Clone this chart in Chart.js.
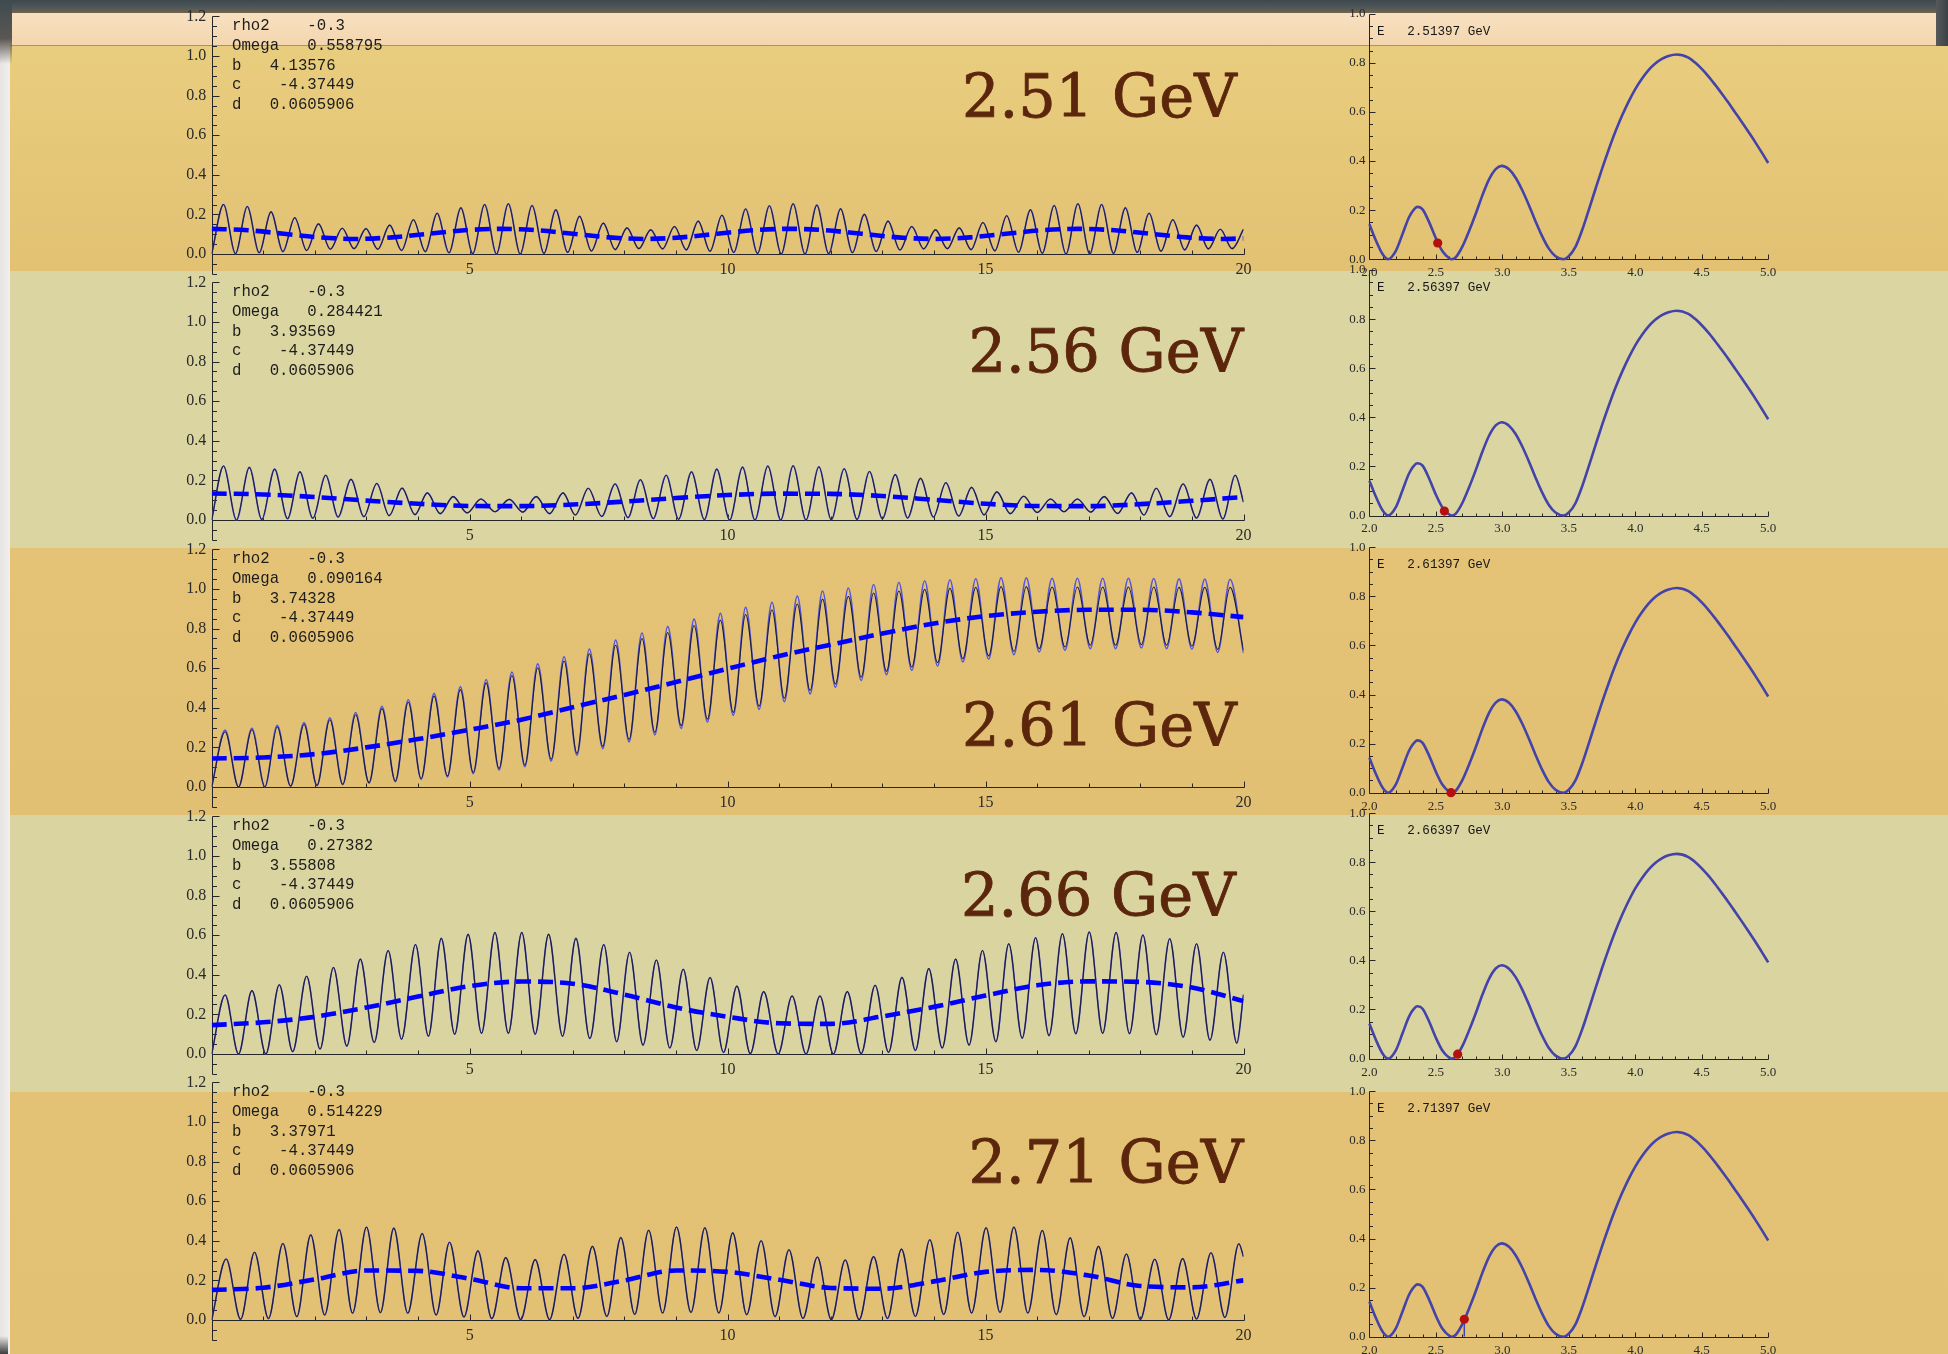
<!DOCTYPE html>
<html lang="en">
<head>
<meta charset="utf-8">
<title>Energy scan 2.51 – 2.71 GeV</title>
<script src="https://cdn.jsdelivr.net/npm/chart.js@4.4.1/dist/chart.umd.min.js"></script>
<style>
  html, body { margin: 0; padding: 0; }
  body { width: 1948px; height: 1354px; position: relative; overflow: hidden; background: #E3C275; }
  .bg { position: absolute; }
  canvas { position: absolute; }
</style>
</head>
<body>
<!-- frame and alternating bands -->
<div class="bg" style="left:0;top:0;width:1948px;height:14px;background:linear-gradient(#3d484e,#4f575a 55%,#7b6647)"></div>
<div class="bg" style="left:10px;top:13px;width:1926px;height:32px;background:linear-gradient(#F8E0C0,#F3D6AF);border-bottom:1px solid #A8917A"></div>
<div class="bg" style="left:1936px;top:0;width:12px;height:52px;background:linear-gradient(90deg,#56595a,#3b4246)"></div>
<div class="bg" style="left:10px;top:46px;width:1938px;height:225px;background:linear-gradient(#E9CD7E,#E2C173)"></div>
<div class="bg" style="left:10px;top:271px;width:1938px;height:277px;background:#DBD6A1"></div>
<div class="bg" style="left:10px;top:548px;width:1938px;height:267px;background:linear-gradient(#E4C376,#E2C073)"></div>
<div class="bg" style="left:10px;top:815px;width:1938px;height:277px;background:#DAD4A0"></div>
<div class="bg" style="left:10px;top:1092px;width:1938px;height:262px;background:linear-gradient(#E3C275,#E2C174)"></div>
<div class="bg" style="left:0;top:14px;width:10px;height:1340px;background:linear-gradient(90deg,#E6E4E2,#F1F0EE)"></div>
<div class="bg" style="left:0;top:0;width:12px;height:64px;background:linear-gradient(#3f4a4f,#5a5752 60%,rgba(90,87,82,0))"></div>
<div class="bg" style="left:0;top:1336px;width:8px;height:18px;background:linear-gradient(rgba(60,60,60,0),#3c3c3c)"></div>

<script>
// ---------------- values ----------------
const energyLabels = ['2.51 GeV', '2.56 GeV', '2.61 GeV', '2.66 GeV', '2.71 GeV'];
const energyExact  = [2.51397, 2.56397, 2.61397, 2.66397, 2.71397];
const rho2Value  = '-0.3';
const omegaVals  = ['0.558795', '0.284421', '0.090164', '0.27382', '0.514229'];
const bVals      = ['4.13576', '3.93569', '3.74328', '3.55808', '3.37971'];
const cValue     = '-4.37449';
const dValue     = '0.0605906';

// tick labels
const leftXTicks  = [5, 10, 15, 20];
const leftYTicks  = [0, 0.2, 0.4, 0.6, 0.8, 1.0, 1.2];
const rightXTicks = [2.0, 2.5, 3.0, 3.5, 4.0, 4.5, 5.0];
const rightYTicks = [0, 0.2, 0.4, 0.6, 0.8, 1.0];

// density |psi|^2 along x: maxima and minima of the oscillation
const w1PeakX = [0.23,0.69,1.15,1.61,2.07,2.53,2.99,3.45,3.91,4.37,4.83,5.29,5.75,6.21,6.67,7.13,7.59,8.05,8.51,8.97,9.43,9.89,10.35,10.81,11.27,11.73,12.19,12.65,13.11,13.57,14.03,14.49,14.95,15.41,15.87,16.33,16.79,17.25,17.71,18.17,18.63,19.09,19.55];
const w1PeakY = [0.250,0.240,0.213,0.183,0.152,0.130,0.128,0.146,0.173,0.206,0.233,0.250,0.254,0.245,0.223,0.190,0.156,0.132,0.122,0.139,0.166,0.196,0.227,0.244,0.254,0.247,0.228,0.200,0.166,0.139,0.122,0.132,0.159,0.193,0.223,0.245,0.254,0.250,0.233,0.206,0.173,0.146,0.125];
const w1LowX  = [0,0.46,0.92,1.38,1.84,2.30,2.76,3.22,3.68,4.14,4.60,5.06,5.52,5.98,6.44,6.90,7.36,7.82,8.28,8.74,9.20,9.66,10.12,10.58,11.04,11.50,11.96,12.42,12.88,13.34,13.80,14.26,14.72,15.18,15.64,16.10,16.56,17.02,17.48,17.94,18.40,18.86,19.32,19.78,20];
const w1LowY  = [0,0.002,0.006,0.012,0.018,0.024,0.027,0.024,0.018,0.012,0.006,0.002,0,0,0.003,0.008,0.015,0.022,0.027,0.026,0.021,0.014,0.008,0.003,0,0,0.002,0.007,0.013,0.020,0.026,0.027,0.022,0.016,0.009,0.004,0,0,0.003,0.008,0.014,0.021,0.026,0.027,0.125];
const avg1X = [0,0.7,1.4,2.1,2.8,3.5,4.2,4.9,5.6,6.3,7.0,7.7,8.4,9.1,9.8,10.5,11.2,11.9,12.6,13.3,14.0,14.7,15.4,16.1,16.8,17.5,18.2,18.9,19.6,20];
const avg1Y = [0.127,0.120,0.102,0.084,0.076,0.084,0.102,0.120,0.127,0.120,0.102,0.084,0.076,0.084,0.102,0.120,0.127,0.120,0.102,0.084,0.076,0.084,0.102,0.120,0.127,0.120,0.102,0.084,0.076,0.079];

const w2PeakX = [0.23,0.73,1.22,1.71,2.21,2.70,3.20,3.69,4.18,4.68,5.22,5.77,6.29,6.81,7.30,7.82,8.31,8.81,9.30,9.79,10.29,10.78,11.27,11.77,12.26,12.75,13.25,13.74,14.23,14.73,15.22,15.74,16.26,16.78,17.30,17.83,18.31,18.83,19.35,19.84];
const w2PeakY = [0.273,0.266,0.257,0.243,0.226,0.205,0.184,0.161,0.137,0.118,0.106,0.104,0.118,0.137,0.160,0.182,0.203,0.226,0.243,0.257,0.267,0.273,0.274,0.269,0.259,0.245,0.229,0.210,0.188,0.165,0.142,0.120,0.106,0.106,0.118,0.137,0.160,0.182,0.205,0.226];
const w2LowX  = [0,0.48,0.97,1.47,1.96,2.45,2.95,3.44,3.94,4.43,4.95,5.49,6.03,6.55,7.05,7.56,8.07,8.56,9.05,9.55,10.04,10.53,11.03,11.52,12.01,12.51,13.0,13.49,13.99,14.48,14.97,15.48,16.0,16.52,17.04,17.56,18.07,18.57,19.09,19.60,20];
const w2LowY  = [0,0,0.003,0.006,0.009,0.015,0.017,0.022,0.027,0.032,0.036,0.042,0.040,0.032,0.025,0.018,0.012,0.007,0.004,0.002,0,0,0,0,0.001,0.003,0.006,0.010,0.015,0.020,0.026,0.032,0.038,0.042,0.040,0.033,0.025,0.017,0.010,0.005,0.09];
const avg2X = [0,1,2,3,4,5,6,7,8,9,10,11,12,13,14,15,16,17,18,19,20];
const avg2Y = [0.134,0.129,0.116,0.098,0.082,0.071,0.070,0.078,0.093,0.111,0.126,0.133,0.132,0.121,0.102,0.082,0.071,0.070,0.080,0.097,0.116];

const w3PeakX = [0.26,0.78,1.27,1.79,2.29,2.79,3.30,3.81,4.31,4.82,5.32,5.82,6.32,6.83,7.32,7.83,8.34,8.84,9.35,9.86,10.35,10.86,11.35,11.84,12.34,12.83,13.32,13.82,14.31,14.81,15.30,15.79,16.29,16.78,17.27,17.77,18.26,18.75,19.25,19.74];
const w3PeakY = [0.279,0.289,0.303,0.316,0.340,0.365,0.396,0.428,0.459,0.492,0.526,0.563,0.602,0.636,0.673,0.716,0.750,0.780,0.816,0.843,0.871,0.895,0.924,0.949,0.963,0.980,0.990,0.998,1.003,1.008,1.012,1.012,1.010,1.010,1.010,1.010,1.010,1.008,1.008,1.008];
const w3LowX  = [0,0.52,1.03,1.53,2.04,2.54,3.05,3.56,4.06,4.57,5.07,5.57,6.07,6.58,7.08,7.58,8.09,8.59,9.10,9.61,10.11,10.61,11.10,11.60,12.09,12.59,13.08,13.57,14.07,14.56,15.06,15.55,16.04,16.54,17.03,17.52,18.02,18.51,19.0,19.50,20];
const w3LowY  = [0,0,0,0.005,0.008,0.014,0.022,0.030,0.042,0.056,0.073,0.093,0.110,0.140,0.170,0.205,0.240,0.276,0.310,0.343,0.377,0.408,0.448,0.487,0.521,0.555,0.584,0.606,0.628,0.648,0.662,0.685,0.699,0.707,0.716,0.716,0.719,0.716,0.712,0.695,0.690];
const w3BluePeakY = [0.287,0.297,0.311,0.325,0.350,0.376,0.408,0.441,0.473,0.507,0.543,0.581,0.622,0.658,0.697,0.742,0.778,0.810,0.848,0.877,0.907,0.933,0.964,0.990,1.005,1.023,1.034,1.042,1.047,1.052,1.056,1.056,1.054,1.054,1.054,1.054,1.053,1.051,1.050,1.049];
const w3BlueLowY  = [0,0,0,0.004,0.007,0.012,0.019,0.027,0.038,0.051,0.067,0.086,0.102,0.131,0.160,0.194,0.228,0.263,0.296,0.329,0.362,0.392,0.431,0.470,0.504,0.538,0.567,0.589,0.611,0.631,0.645,0.668,0.682,0.690,0.699,0.699,0.702,0.699,0.696,0.680,0.676];
const avg3X = [0,1,2,3,4,5,6,7,8,9,10,11,12,13,14,15,16,17,18,19,20];
const avg3Y = [0.144,0.149,0.166,0.200,0.242,0.289,0.340,0.403,0.465,0.530,0.597,0.662,0.719,0.775,0.826,0.863,0.885,0.895,0.895,0.882,0.858];

const w4PeakX = [0.26,0.78,1.31,1.84,2.36,2.88,3.42,3.95,4.45,4.97,5.49,6.01,6.53,7.06,7.60,8.10,8.62,9.14,9.66,10.18,10.70,11.25,11.79,12.32,12.86,13.38,13.90,14.42,14.94,15.45,15.97,16.49,17.01,17.53,18.05,18.57,19.09,19.61];
const w4PeakY = [0.298,0.320,0.350,0.393,0.437,0.479,0.523,0.553,0.584,0.604,0.614,0.614,0.604,0.584,0.553,0.514,0.475,0.428,0.386,0.343,0.315,0.293,0.293,0.315,0.347,0.387,0.431,0.479,0.523,0.557,0.587,0.607,0.616,0.614,0.601,0.582,0.557,0.514];
const w4LowX  = [0,0.52,1.05,1.57,2.10,2.62,3.15,3.68,4.20,4.71,5.23,5.75,6.27,6.80,7.33,7.85,8.36,8.88,9.40,9.92,10.44,10.98,11.52,12.05,12.59,13.12,13.64,14.16,14.68,15.20,15.71,16.23,16.75,17.27,17.79,18.31,18.83,19.35,19.87,20];
const w4LowY  = [0,0,0,0.012,0.025,0.04,0.058,0.075,0.09,0.10,0.105,0.105,0.10,0.09,0.078,0.062,0.045,0.03,0.018,0.008,0.002,0,0,0,0.002,0.008,0.018,0.03,0.045,0.062,0.08,0.093,0.102,0.105,0.103,0.097,0.085,0.07,0.055,0.30];
const avg4X = [0,1,2,3,4,5,6,7,8,9,10,11,12,13,14,15,16,17,18,19,20];
const avg4Y = [0.146,0.160,0.188,0.235,0.290,0.343,0.366,0.355,0.300,0.235,0.188,0.155,0.152,0.190,0.238,0.295,0.347,0.367,0.364,0.336,0.267];

const w5PeakX = [0.28,0.83,1.38,1.92,2.47,3.00,3.53,4.08,4.61,5.16,5.70,6.27,6.83,7.38,7.93,8.47,9.01,9.56,10.10,10.65,11.19,11.74,12.28,12.83,13.37,13.92,14.46,15.01,15.55,16.10,16.64,17.19,17.73,18.28,18.82,19.37,19.91];
const w5PeakY = [0.308,0.342,0.386,0.430,0.457,0.470,0.464,0.437,0.393,0.349,0.315,0.305,0.332,0.372,0.416,0.453,0.470,0.466,0.440,0.400,0.355,0.318,0.303,0.320,0.358,0.405,0.443,0.466,0.470,0.452,0.415,0.372,0.333,0.307,0.310,0.340,0.385];
const w5LowX  = [0,0.56,1.10,1.65,2.19,2.73,3.27,3.80,4.35,4.89,5.43,5.99,6.55,7.10,7.66,8.20,8.74,9.29,9.83,10.37,10.92,11.46,12.01,12.55,13.10,13.64,14.19,14.73,15.28,15.82,16.37,16.91,17.46,18.0,18.55,19.09,19.64,20];
const w5LowY  = [0,0.003,0.007,0.017,0.025,0.034,0.037,0.034,0.025,0.015,0.007,0.002,0.002,0.008,0.018,0.028,0.035,0.038,0.035,0.027,0.017,0.008,0.002,0.002,0.008,0.018,0.028,0.035,0.038,0.035,0.027,0.017,0.008,0.003,0.001,0.005,0.013,0.32];
const avg5X = [0,1,2,3,4,5,6,7,8,9,10,11,12,13,14,15,16,17,18,19,20];
const avg5Y = [0.152,0.163,0.205,0.250,0.248,0.208,0.160,0.160,0.200,0.250,0.243,0.203,0.162,0.158,0.195,0.243,0.253,0.225,0.172,0.165,0.200];

// transmission curve vs energy (GeV), same in every row
const energyX = [2.0,2.05,2.1,2.14,2.2,2.25,2.3,2.35,2.364,2.4,2.45,2.5,2.55,2.6,2.62,2.65,2.7,2.75,2.8,2.85,2.9,2.95,2.995,3.05,3.1,3.15,3.2,3.25,3.3,3.35,3.4,3.46,3.5,3.55,3.6,3.65,3.7,3.75,3.8,3.85,3.9,3.95,4.0,4.05,4.1,4.15,4.2,4.25,4.313,4.4,4.45,4.5,4.55,4.6,4.65,4.7,4.75,4.8,4.85,4.9,4.95,5.0];
const energyY = [0.142,0.075,0.02,0,0.035,0.104,0.173,0.211,0.213,0.203,0.150,0.085,0.032,0.004,0,0.008,0.052,0.115,0.185,0.26,0.325,0.367,0.38,0.366,0.332,0.281,0.22,0.154,0.093,0.043,0.012,0,0.012,0.05,0.118,0.2,0.285,0.368,0.446,0.519,0.584,0.642,0.693,0.735,0.77,0.797,0.816,0.828,0.834,0.821,0.801,0.775,0.745,0.711,0.675,0.638,0.599,0.56,0.52,0.479,0.436,0.392];
const dotY = [0.066, 0.018, 0.0, 0.018, 0.071];
const dotStem = [false, false, false, false, true];

// ---------------- helpers ----------------
const pts = (xs, ys) => xs.map((x, i) => ({ x, y: ys[i] }));
const merge = (a, b) => a.concat(b).sort((p, q) => p.x - q.x);

const waves = [
  { peak: pts(w1PeakX, w1PeakY), low: pts(w1LowX, w1LowY), avg: pts(avg1X, avg1Y) },
  { peak: pts(w2PeakX, w2PeakY), low: pts(w2LowX, w2LowY), avg: pts(avg2X, avg2Y) },
  { peak: pts(w3PeakX, w3PeakY), low: pts(w3LowX, w3LowY), avg: pts(avg3X, avg3Y),
    bluePeak: pts(w3PeakX, w3BluePeakY), blueLow: pts(w3LowX, w3BlueLowY) },
  { peak: pts(w4PeakX, w4PeakY), low: pts(w4LowX, w4LowY), avg: pts(avg4X, avg4Y) },
  { peak: pts(w5PeakX, w5PeakY), low: pts(w5LowX, w5LowY), avg: pts(avg5X, avg5Y) }
];

// Mathematica-style axes: lines through the origin, ticks pointing inward
const mathAxes = {
  id: 'mathAxes',
  beforeDatasetsDraw(chart, args, o) {
    const { ctx } = chart;
    const xs = chart.scales.x, ys = chart.scales.y;
    const px = v => Math.round(xs.getPixelForValue(v)) + 0.5;
    const py = v => Math.round(ys.getPixelForValue(v)) + 0.5;
    const ax = px(xs.min), ay = py(0);
    ctx.save();
    ctx.strokeStyle = o.color;
    ctx.lineWidth = 1;
    ctx.beginPath();
    ctx.moveTo(ax, py(ys.min)); ctx.lineTo(ax, py(ys.max));
    ctx.moveTo(px(xs.min), ay); ctx.lineTo(px(xs.max), ay);
    const nx = Math.round((xs.max - xs.min) / o.xMinor);
    for (let i = 1; i <= nx; i++) {
      const v = xs.min + i * o.xMinor;
      const r = v / o.xMajor;
      const L = Math.abs(r - Math.round(r)) < 1e-6 ? o.xMajorLen : o.xMinorLen;
      ctx.moveTo(px(v), ay); ctx.lineTo(px(v), ay - L);
    }
    const ny = Math.round((ys.max - ys.min) / o.yMinor);
    for (let i = 0; i <= ny; i++) {
      const v = ys.min + i * o.yMinor;
      const r = v / o.yMajor;
      const L = Math.abs(r - Math.round(r)) < 1e-6 ? o.yMajorLen : o.yMinorLen;
      ctx.moveTo(ax, py(v)); ctx.lineTo(ax + L, py(v));
    }
    ctx.stroke();
    ctx.restore();
  }
};

// text blocks drawn on top of each panel
const notes = {
  id: 'notes',
  afterDraw(chart, args, o) {
    const { ctx } = chart;
    ctx.save();
    (o.items || []).forEach(it => {
      ctx.font = it.font;
      ctx.fillStyle = it.color;
      ctx.textBaseline = 'alphabetic';
      ctx.textAlign = 'left';
      it.lines.forEach((line, i) => {
        const y = it.y + i * (it.lh || 0);
        if (it.stroke) {
          ctx.lineWidth = it.stroke;
          ctx.strokeStyle = it.color;
          ctx.lineJoin = 'round';
          ctx.strokeText(line, it.x, y);
        }
        ctx.fillText(line, it.x, y);
      });
    });
    ctx.restore();
  }
};

function makeCanvas(left, top, w, h) {
  const c = document.createElement('canvas');
  c.width = w; c.height = h;
  c.style.left = left + 'px'; c.style.top = top + 'px';
  c.style.width = w + 'px'; c.style.height = h + 'px';
  document.body.appendChild(c);
  return c;
}

const baseOptions = () => ({
  responsive: false,
  maintainAspectRatio: false,
  animation: false,
  devicePixelRatio: 1,
  events: [],
  elements: { point: { radius: 0 }, line: { cubicInterpolationMode: 'monotone', fill: false } },
});

// ---------------- panel geometry (page pixels) ----------------
const leftY0   = [254, 520, 787, 1054, 1320];          // pixel row of y = 0
const rightY0  = [259.2, 515.5, 792.7, 1058.6, 1336.7];
const bigLabelPos = [[962, 117.3], [968.5, 372], [962, 746], [961, 916], [968.5, 1183]];

const L = { left: 140, width: 1130, height: 290, areaLeft: 71.7, areaRight: 1103.5, padTop: 14, areaH: 257.4 };
const R = { left: 1300, width: 500, height: 286, areaLeft: 69.4, areaRight: 468.2, padTop: 12, areaH: 245.5, xAxisH: 22 };

const serif = '"Liberation Serif", "Times New Roman", serif';
const mono  = '"Liberation Mono", "Courier New", monospace';

for (let k = 0; k < 5; k++) {
  // ---- oscillation panel ----
  const top = leftY0[k] - 237.6 - L.padTop;
  const cv = makeCanvas(L.left, Math.round(top), L.width, L.height);
  const dy = top - Math.round(top);
  const w = waves[k];
  const black = merge(w.peak, w.low);
  const blue = w.bluePeak ? merge(w.bluePeak, w.blueLow) : black;
  const paramLines = [
    'rho2    ' + rho2Value,
    'Omega   ' + omegaVals[k],
    'b   ' + bVals[k],
    'c    ' + cValue,
    'd   ' + dValue
  ];
  const opt = baseOptions();
  opt.layout = { padding: { left: 0, top: L.padTop + dy, right: L.width - L.areaRight, bottom: L.height - L.padTop - dy - L.areaH } };
  opt.plugins = {
    legend: { display: false }, tooltip: { enabled: false },
    mathAxes: { color: '#262626', xMinor: 1, xMajor: 5, xMajorLen: 6, xMinorLen: 4, yMinor: 0.05, yMajor: 0.2, yMajorLen: 7, yMinorLen: 4.5 },
    notes: { items: [
      { font: '15.7px ' + mono, color: '#1c1c1c', x: L.areaLeft + 20.3, y: L.padTop + dy + 13.6, lh: 19.75, lines: paramLines },
      { font: '59px "DejaVu Serif", serif', color: '#5b260c', stroke: 0.8, x: bigLabelPos[k][0] - L.left, y: bigLabelPos[k][1] - Math.round(top), lines: [energyLabels[k]] }
    ] }
  };
  opt.scales = {
    x: {
      type: 'linear', min: 0, max: 20, position: { y: 0 },
      grid: { display: false, drawTicks: false }, border: { display: false },
      ticks: { autoSkip: false, maxRotation: 0, padding: 6, color: '#2a2a2a', font: { family: serif, size: 16 }, callback: v => String(v) },
      afterBuildTicks: s => { s.ticks = leftXTicks.map(v => ({ value: v })); },
      afterFit: s => { s.paddingLeft = 0; s.paddingRight = 0; }
    },
    y: {
      type: 'linear', min: -0.1, max: 1.2, position: 'left',
      grid: { display: false, drawTicks: false }, border: { display: false },
      ticks: { autoSkip: false, padding: 5.5, color: '#2a2a2a', font: { family: serif, size: 16 }, callback: v => Number(v).toFixed(1) },
      afterBuildTicks: s => { s.ticks = leftYTicks.map(v => ({ value: v })); },
      afterFit: s => { s.width = L.areaLeft; s.paddingTop = 0; s.paddingBottom = 0; }
    }
  };
  new Chart(cv, {
    type: 'line',
    data: { datasets: [
      { data: w.avg, borderColor: '#0000ff', borderWidth: 4.6, borderDash: [15, 7], borderCapStyle: 'butt', order: 1 },
      { data: black, borderColor: '#1d1d36', borderWidth: 1.1, order: 2 },
      { data: blue, borderColor: '#5555e0', borderWidth: 1.6, order: 3 }
    ] },
    options: opt,
    plugins: [mathAxes, notes]
  });

  // ---- energy panel ----
  const rTop = rightY0[k] - R.areaH - R.padTop;
  const rc = makeCanvas(R.left, Math.round(rTop), R.width, R.height);
  const rdy = rTop - Math.round(rTop);
  const ropt = baseOptions();
  ropt.layout = { padding: { left: 0, top: R.padTop + rdy, right: R.width - R.areaRight, bottom: R.height - R.padTop - rdy - R.areaH - R.xAxisH } };
  ropt.plugins = {
    legend: { display: false }, tooltip: { enabled: false },
    mathAxes: { color: '#262626', xMinor: 0.1, xMajor: 0.5, xMajorLen: 5, xMinorLen: 3, yMinor: 0.05, yMajor: 0.2, yMajorLen: 6, yMinorLen: 3.5 },
    notes: { items: [
      { font: '12.6px ' + mono, color: '#161616', x: R.areaLeft + 7.6, y: R.padTop + rdy + 21, lines: ['E   ' + energyExact[k].toFixed(5) + ' GeV'] }
    ] }
  };
  ropt.scales = {
    x: {
      type: 'linear', min: 2, max: 5, position: 'bottom',
      grid: { display: false, drawTicks: false }, border: { display: false },
      ticks: { autoSkip: false, maxRotation: 0, padding: 5.7, color: '#2a2a2a', font: { family: serif, size: 13 }, callback: v => Number(v).toFixed(1) },
      afterBuildTicks: s => { s.ticks = rightXTicks.map(v => ({ value: v })); },
      afterFit: s => { s.height = R.xAxisH; s.paddingLeft = 0; s.paddingRight = 0; }
    },
    y: {
      type: 'linear', min: 0, max: 1, position: 'left',
      grid: { display: false, drawTicks: false }, border: { display: false },
      ticks: { autoSkip: false, padding: 4, color: '#2a2a2a', font: { family: serif, size: 13 }, callback: v => Number(v).toFixed(1) },
      afterBuildTicks: s => { s.ticks = rightYTicks.map(v => ({ value: v })); },
      afterFit: s => { s.width = R.areaLeft; s.paddingTop = 0; s.paddingBottom = 0; }
    }
  };
  const rSets = [
    { type: 'scatter', data: [{ x: energyExact[k], y: dotY[k] }], pointRadius: 4.6, pointBackgroundColor: '#b3100f', pointBorderWidth: 0, clip: 8, order: 0 },
    { data: pts(energyX, energyY), borderColor: '#4343aa', borderWidth: 2.6, clip: 5, order: 2 }
  ];
  if (dotStem[k]) {
    rSets.push({ data: [{ x: energyExact[k], y: 0 }, { x: energyExact[k], y: dotY[k] }], borderColor: '#4343aa', borderWidth: 1.5, cubicInterpolationMode: 'default', tension: 0, order: 1 });
  }
  new Chart(rc, { type: 'line', data: { datasets: rSets }, options: ropt, plugins: [mathAxes, notes] });
}
</script>
</body>
</html>
